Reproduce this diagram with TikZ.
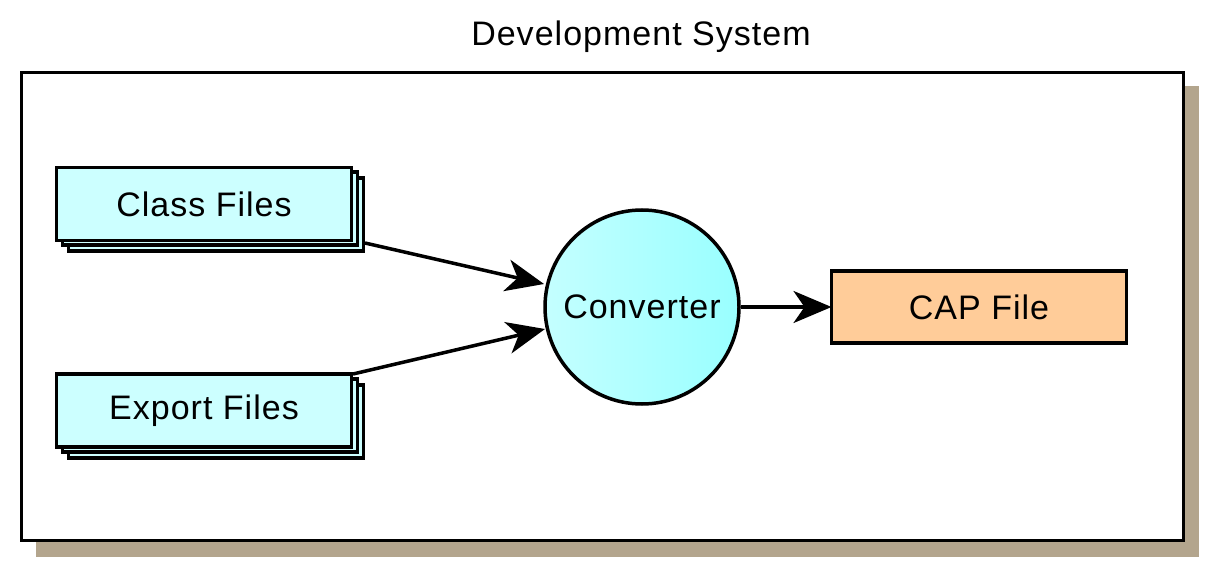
\documentclass[tikz,border=0pt]{standalone}
\usepackage{fontspec}
\setmainfont{Liberation Sans}[LetterSpace=3]
\usetikzlibrary{arrows.meta}
\definecolor{boxcyan}{HTML}{CCFFFF}
\definecolor{capfill}{HTML}{FFCC99}
\definecolor{shadowc}{HTML}{B3A58D}
\definecolor{circL}{HTML}{C4FFFF}
\definecolor{circM}{HTML}{CCFFFF}
\definecolor{circR}{HTML}{99FFFF}
\tikzset{
  filebox/.style={draw=black, line width=3.5pt, fill=boxcyan, minimum width=295pt, minimum height=73pt, inner sep=0pt, outer sep=0pt},
  capbox/.style={draw=black, line width=3.5pt, fill=capfill, minimum width=295pt, minimum height=72pt, inner sep=0pt, outer sep=0pt},
  conv/.style={circle, draw=black, line width=3.5pt, minimum size=194pt, inner sep=0pt, outer sep=1.75pt, left color=circL, middle color=circM, right color=circR},
  flow/.style={line width=3.5pt, -{Stealth[length=38pt,width=32pt,inset=11pt]}},
  lbl/.style={font=\fontsize{34}{40}\selectfont}
}
\begin{document}
\begin{tikzpicture}[x=1pt,y=-1pt]
\useasboundingbox (0,0) rectangle (1212,564);
% shadow and frame
\fill[shadowc] (36,86) rectangle (1199,557);
\draw[line width=3.5pt, fill=white] (21.5,72.5) rectangle (1183.5,540.5);
\node[lbl] (title) at (641,37) {Development System};
% class files stack
\node[filebox] (class3) at (216,214.5) {};
\node[filebox] (class2) at (210,208.5) {};
\node[filebox, lbl] (class) at (204,204) {Class Files};
% export files stack
\node[filebox] (export3) at (216,421.5) {};
\node[filebox] (export2) at (210,415.5) {};
\node[filebox, lbl] (export) at (204,410.5) {Export Files};
% converter
\node[conv, lbl] (converter) at (642,307) {Converter};
% CAP file
\node[capbox, lbl] (cap) at (979,307) {CAP File};
% connectors
\coordinate (cs) at (365,243);
\coordinate (es) at (353,374);
\coordinate (ct) at (544,284);
\coordinate (et) at (545,329);
\draw[flow] (cs) -- (ct);
\draw[flow] (es) -- (et);
\draw[flow] (converter.east) -- (cap.west);
\end{tikzpicture}
\end{document}
